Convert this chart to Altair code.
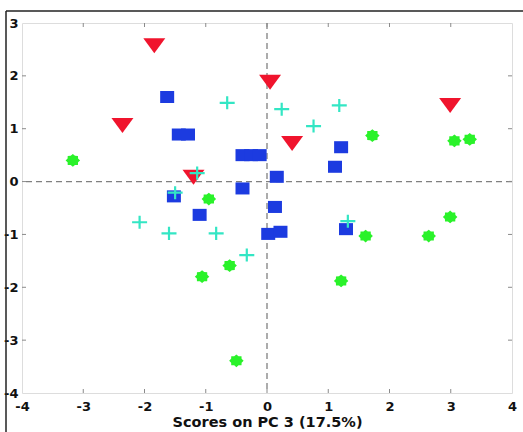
import altair as alt
import pandas as pd
import math

# ---- data ----
red_x = [-1.84, -2.36, 0.05, 0.41, 2.99, -1.2]
red_y = [2.57, 1.06, 1.88, 0.72, 1.44, 0.08]

blue_x = [-1.63, -1.44, -1.29, -0.4, -0.26, -0.12, -0.4, 0.16, 0.13, 0.02, 0.22, -1.52, -1.1, 1.21, 1.11, 1.29]
blue_y = [1.6, 0.89, 0.89, 0.5, 0.5, 0.5, -0.13, 0.09, -0.48, -0.99, -0.95, -0.28, -0.63, 0.65, 0.28, -0.9]

cyan_x = [-0.65, 0.24, 0.76, 1.18, -1.14, -1.5, -2.08, -1.6, -0.83, -0.33, 1.32]
cyan_y = [1.49, 1.37, 1.05, 1.44, 0.16, -0.21, -0.77, -0.98, -0.98, -1.39, -0.75]

green_x = [-3.17, -0.95, -1.06, -0.61, -0.5, 1.72, 3.06, 3.31, 2.99, 1.61, 2.64, 1.21]
green_y = [0.4, -0.33, -1.8, -1.59, -3.39, 0.87, 0.77, 0.8, -0.67, -1.03, -1.03, -1.88]

x_ticks = [-4, -3, -2, -1, 0, 1, 2, 3, 4]
y_ticks = [-4, -3, -2, -1, 0, 1, 2, 3]
x_title = "Scores on PC 3 (17.5%)"

W, H = 490, 370
FONT = "DejaVu Sans"
AXIS_GRAY = "#8a8a8a"
LABEL_EXPR = "replace(datum.label, '\u2212', '-')"

xs = alt.Scale(domain=[-4, 4], nice=False, zero=False)
ys = alt.Scale(domain=[-4, 3], nice=False, zero=False)

def pts(xv, yv):
    return pd.DataFrame({"x": xv, "y": yv})

# marker shapes (custom paths)
tri = "M-1,-0.68L1,-0.68L0,0.68Z"
sq = "M-1,-0.86L1,-0.86L1,0.86L-1,0.86Z"
plus = "M-1,0L1,0M0,-0.87L0,0.87"
star_pts = []
for k in range(16):
    r = 1.0 if k % 2 == 0 else 0.78
    a = math.pi * k / 8
    star_pts.append((r * math.cos(a), 0.88 * r * math.sin(a)))
star = "M" + "L".join(f"{px:.3f},{py:.3f}" for px, py in star_pts) + "Z"

xenc = alt.X("x:Q", scale=xs, axis=alt.Axis(
    values=x_ticks, title=x_title, grid=False, ticks=False, domain=False,
    labelFont=FONT, labelFontSize=13, labelFontWeight="bold", labelColor="#111",
    labelPadding=7, labelFlush=False, labelExpr=LABEL_EXPR,
    titleFont=FONT, titleFontSize=14.5,
    titleFontWeight="bold", titleColor="#111", titlePadding=2, format="d"))
yenc = alt.Y("y:Q", scale=ys, axis=alt.Axis(
    values=y_ticks, title=None, grid=False, ticks=False, domain=False,
    labelFont=FONT, labelFontSize=13, labelFontWeight="bold", labelColor="#111",
    labelPadding=4, labelFlush=False, labelExpr=LABEL_EXPR, format="d"))

green = alt.Chart(pts(green_x, green_y)).mark_point(
    shape=star, size=210, filled=True, color="#2af22a", opacity=1
).encode(x=xenc, y=yenc)
red = alt.Chart(pts(red_x, red_y)).mark_point(
    shape=tri, size=484, filled=True, color="#f0142d", opacity=1
).encode(x="x:Q", y="y:Q")
blue = alt.Chart(pts(blue_x, blue_y)).mark_point(
    shape=sq, size=196, filled=True, color="#1c3be0", opacity=1
).encode(x="x:Q", y="y:Q")
cyan = alt.Chart(pts(cyan_x, cyan_y)).mark_point(
    shape=plus, size=225, filled=False, color="#33e6c4", strokeWidth=2.2, opacity=1
).encode(x="x:Q", y="y:Q")

zx = alt.Chart(pd.DataFrame({"x": [0]})).mark_rule(
    color="#808080", strokeDash=[6, 4], strokeWidth=1.3).encode(x="x:Q")
zy = alt.Chart(pd.DataFrame({"y": [0]})).mark_rule(
    color="#808080", strokeDash=[6, 4], strokeWidth=1.3).encode(y="y:Q")

inner_x = [v for v in x_ticks if v not in (-4, 4)]
inner_y = [v for v in y_ticks if v not in (-4, 3)]
tx = pd.DataFrame({"x": inner_x})
ty = pd.DataFrame({"y": inner_y})
tb = alt.Chart(tx).mark_rule(color=AXIS_GRAY).encode(x="x:Q", y=alt.value(H), y2=alt.value(H - 4))
tt = alt.Chart(tx).mark_rule(color=AXIS_GRAY).encode(x="x:Q", y=alt.value(0), y2=alt.value(4))
tl = alt.Chart(ty).mark_rule(color=AXIS_GRAY).encode(y="y:Q", x=alt.value(0), x2=alt.value(4))
tr = alt.Chart(ty).mark_rule(color=AXIS_GRAY).encode(y="y:Q", x=alt.value(W), x2=alt.value(W - 4))

# outer figure frame (top and left black lines)
frame_top = alt.Chart(pd.DataFrame({"a": [0]})).mark_rule(color="#222", strokeWidth=1.5).encode(
    x=alt.value(-16), x2=alt.value(W + 12), y=alt.value(-12))
frame_left = alt.Chart(pd.DataFrame({"a": [0]})).mark_rule(color="#222", strokeWidth=1.5).encode(
    x=alt.value(-16), y=alt.value(-12), y2=alt.value(H + 40))

chart = alt.layer(
    zx, zy, tb, tt, tl, tr, green, red, blue, cyan, frame_top, frame_left
).properties(
    width=W, height=H,
    autosize=alt.AutoSizeParams(type="none"),
    padding={"left": 22, "top": 23, "right": 11, "bottom": 39},
).configure_view(stroke=AXIS_GRAY, strokeWidth=1.5).configure(background="white")

chart.save("out.html", embed_options={"renderer": "svg", "actions": False})
